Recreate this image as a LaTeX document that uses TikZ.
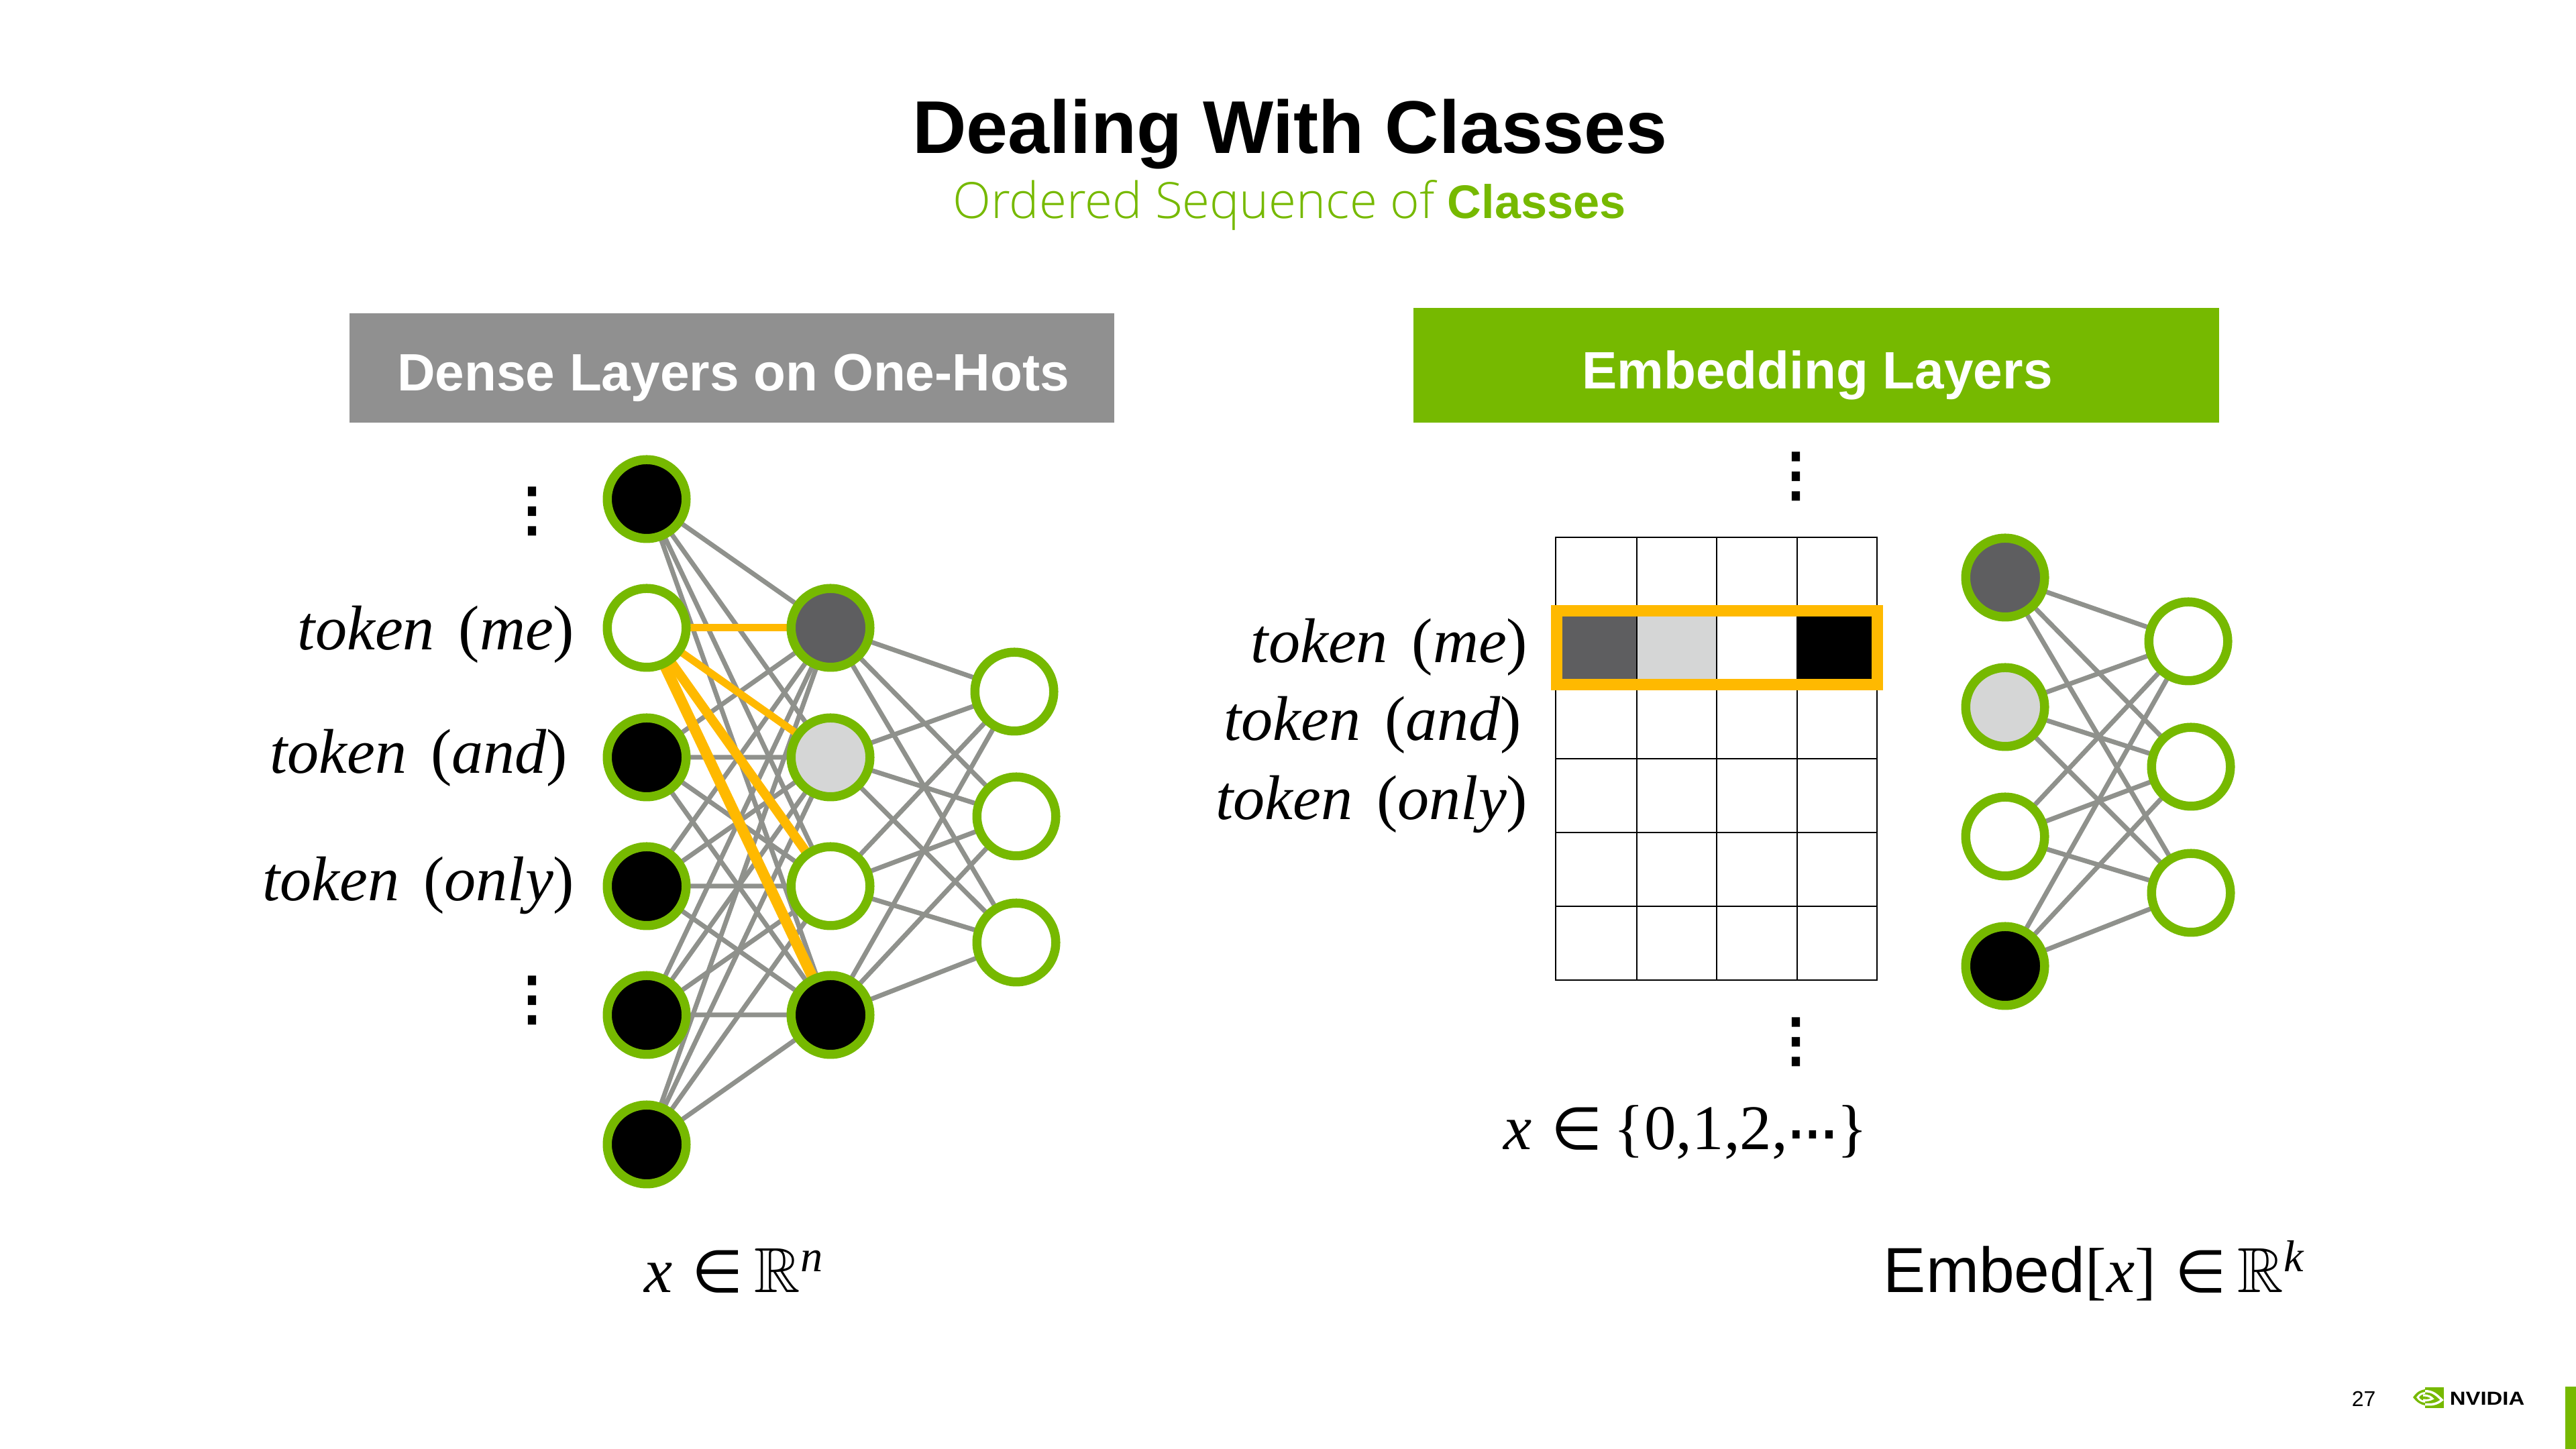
\documentclass[tikz,border=0pt]{standalone}
\usepackage{amssymb}
\usepackage{fontspec}
\setmainfont{Liberation Sans}
\newfontfamily\tokenfont{Liberation Serif}
\newfontfamily\lightfont{Open Sans Light}
\newfontfamily\dotsfont{DejaVu Sans}[FakeBold=4]
\newfontfamily\symfont{DejaVu Sans}
\usetikzlibrary{backgrounds}
\definecolor{nvgreen}{HTML}{76B900}
\definecolor{nvorange}{HTML}{FFB900}
\definecolor{edgegray}{HTML}{8F918C}
\definecolor{bannergray}{HTML}{909090}
\definecolor{darkcell}{HTML}{5E5E60}
\definecolor{lightcell}{HTML}{D5D6D6}
\newcommand{\tok}[1]{\textit{token} \hspace{.13em}(\textit{#1})}
\newcommand{\elemof}{\hspace{.3em}{\fontsize{25}{25}\selectfont\symfont ∈}\hspace{.18em}}

\begin{document}
\begin{tikzpicture}[
  neuron/.style={circle,draw=nvgreen,line width=.135cm,minimum size=1.175cm,inner sep=0,outer sep=0},
  edge/.style={edgegray,line width=.07cm},
  hot/.style={nvorange,line width=#1},
  tokenlabel/.style={anchor=base east,inner sep=0,font=\fontsize{26.8}{26.8}\selectfont\tokenfont},
  mathlabel/.style={anchor=base west,inner sep=0,font=\fontsize{27}{27}\selectfont\tokenfont},
  vdotslabel/.style={inner sep=0,font=\fontsize{24.5}{24.5}\selectfont\dotsfont},
  headtext/.style={anchor=base,inner sep=0,text=white,font=\fontsize{22.3}{22.3}\selectfont\bfseries}]
\useasboundingbox (0,0) rectangle (38.4,21.6);
% heading
\node[anchor=base,inner sep=0,font=\fontsize{31.7}{31.7}\selectfont\bfseries] (title) at (19.23,19.31) {Dealing With Classes};
\node[anchor=base,inner sep=0,text=nvgreen] (subtitle) at (19.22,18.34) {{\fontsize{21.2}{21.2}\selectfont\lightfont Ordered Sequence of }{\fontsize{20}{20}\selectfont\bfseries Classes}};
% banners
\fill[bannergray] (5.21,15.30) rectangle (16.61,16.93);
\fill[nvgreen] (21.07,15.30) rectangle (33.08,17.01);
\node[headtext] (densehead) at (10.93,15.77) {Dense Layers on One-Hots};
\node[headtext] (embedhead) at (27.09,15.80) {Embedding Layers};
% left network
\node[neuron,fill=black] (i1) at (9.64,14.16) {};
\node[neuron,fill=white] (i2) at (9.64,12.24) {};
\node[neuron,fill=black] (i3) at (9.64,10.31) {};
\node[neuron,fill=black] (i4) at (9.64,8.39) {};
\node[neuron,fill=black] (i5) at (9.64,6.47) {};
\node[neuron,fill=black] (i6) at (9.64,4.54) {};
\node[neuron,fill=darkcell] (h1) at (12.38,12.24) {};
\node[neuron,fill=lightcell] (h2) at (12.38,10.31) {};
\node[neuron,fill=white] (h3) at (12.38,8.39) {};
\node[neuron,fill=black] (h4) at (12.38,6.47) {};
\node[neuron,fill=white] (o1) at (15.12,11.29) {};
\node[neuron,fill=white] (o2) at (15.15,9.43) {};
\node[neuron,fill=white] (o3) at (15.15,7.55) {};
\begin{pgfonlayer}{background}
\draw[edge] (i1)--(h1) (i1)--(h2) (i1)--(h3) (i1)--(h4);
\draw[edge] (i3)--(h1) (i3)--(h2) (i3)--(h3) (i3)--(h4);
\draw[edge] (i4)--(h1) (i4)--(h2) (i4)--(h3) (i4)--(h4);
\draw[edge] (i5)--(h1) (i5)--(h2) (i5)--(h3) (i5)--(h4);
\draw[edge] (i6)--(h1) (i6)--(h2) (i6)--(h3) (i6)--(h4);
\draw[edge] (h1)--(o1) (h1)--(o2) (h1)--(o3);
\draw[edge] (h2)--(o1) (h2)--(o2) (h2)--(o3);
\draw[edge] (h3)--(o1) (h3)--(o2) (h3)--(o3);
\draw[edge] (h4)--(o1) (h4)--(o2) (h4)--(o3);
\draw[hot=.11cm] (i2)--(h1);\draw[hot=.11cm] (i2)--(h2);
\draw[hot=.14cm] (i2)--(h3);\draw[hot=.16cm] (i2)--(h4);
\end{pgfonlayer}
\node[tokenlabel] (lme) at (8.57,11.91) {\tok{me}};
\node[tokenlabel] (land) at (8.47,10.07) {\tok{and}};
\node[tokenlabel] (lonly) at (8.57,8.17) {\tok{only}};
\node[vdotslabel] (ldotsa) at (7.93,13.98) {⋮};
\node[vdotslabel] (ldotsb) at (7.93,6.69) {⋮};
\node[mathlabel] (lmath) at (9.60,2.33) {\textit{x}\elemof$\mathbb{R}$\textsuperscript{\textit{n}}};
% embedding table
\fill[darkcell] (23.20,11.39) rectangle (24.40,12.49);
\fill[lightcell] (24.40,11.39) rectangle (25.59,12.49);
\fill[black] (26.79,11.39) rectangle (27.98,12.49);
\draw[line width=.025cm] (23.19,6.99) rectangle (27.98,13.59);
\draw[line width=.025cm] (24.40,6.99)--(24.40,13.59) (25.59,6.99)--(25.59,13.59) (26.79,6.99)--(26.79,13.59);
\draw[line width=.025cm] (23.19,8.09)--(27.98,8.09) (23.19,9.19)--(27.98,9.19) (23.19,10.29)--(27.98,10.29);
\draw[line width=.025cm] (23.19,11.39)--(27.98,11.39) (23.19,12.49)--(27.98,12.49);
\draw[nvorange,line width=.17cm] (23.20,11.395) rectangle (27.985,12.495);
\node[tokenlabel] (rme) at (22.78,11.72) {\tok{me}};
\node[tokenlabel] (rand) at (22.69,10.56) {\tok{and}};
\node[tokenlabel] (ronly) at (22.78,9.38) {\tok{only}};
\node[vdotslabel] (rdotsa) at (26.77,14.50) {⋮};
\node[vdotslabel] (rdotsb) at (26.77,6.07) {⋮};
\node[mathlabel] (rmath) at (22.41,4.46) {\textit{x}\elemof\{0,1,2,{\fontsize{21}{21}\selectfont\dotsfont ⋯}\}};
% right network
\node[neuron,fill=darkcell] (e1) at (29.89,12.99) {};
\node[neuron,fill=lightcell] (e2) at (29.89,11.06) {};
\node[neuron,fill=white] (e3) at (29.89,9.13) {};
\node[neuron,fill=black] (e4) at (29.89,7.20) {};
\node[neuron,fill=white] (r1) at (32.62,12.04) {};
\node[neuron,fill=white] (r2) at (32.66,10.17) {};
\node[neuron,fill=white] (r3) at (32.66,8.29) {};
\begin{pgfonlayer}{background}
\draw[edge] (e1)--(r1) (e1)--(r2) (e1)--(r3);
\draw[edge] (e2)--(r1) (e2)--(r2) (e2)--(r3);
\draw[edge] (e3)--(r1) (e3)--(r2) (e3)--(r3);
\draw[edge] (e4)--(r1) (e4)--(r2) (e4)--(r3);
\end{pgfonlayer}
\node[mathlabel] (embedmath) at (28.07,2.33) {{\rmfamily Embed}{[\textit{x}]}\elemof$\mathbb{R}$\textsuperscript{\textit{k}}};
% footer
\node[anchor=base west,inner sep=0,font=\fontsize{9.1}{9.1}\selectfont] (pagenum) at (35.05,.63) {27};
\fill[nvgreen] (38.24,0) rectangle (38.4,.93);
\fill[nvgreen] (36.15,.61) rectangle (36.43,.92);
\fill[nvgreen] (35.97,.77) .. controls (36.03,.86) and (36.09,.88) .. (36.15,.89)--(36.15,.65) .. controls (36.09,.66) and (36.03,.69) .. (35.97,.77);
\fill[white] (36.02,.77) .. controls (36.06,.83) and (36.10,.845) .. (36.15,.85)--(36.15,.69) .. controls (36.10,.695) and (36.06,.71) .. (36.02,.77);
\fill[nvgreen] (36.06,.77) .. controls (36.09,.81) and (36.12,.82) .. (36.15,.82)--(36.15,.72) .. controls (36.12,.72) and (36.09,.73) .. (36.06,.77);
\draw[white,line width=.035cm] (36.15,.86) .. controls (36.26,.87) and (36.33,.80) .. (36.40,.73) .. controls (36.33,.67) and (36.25,.655) .. (36.15,.665);
\draw[white,line width=.03cm] (36.12,.80) .. controls (36.21,.80) and (36.24,.77) .. (36.26,.75) .. controls (36.22,.73) and (36.18,.72) .. (36.12,.73);
\node[anchor=base west,inner sep=0,xscale=1.17,font=\fontsize{8}{8}\selectfont\bfseries] (logotext) at (36.51,.65) {NVIDIA};
\end{tikzpicture}
\end{document}
